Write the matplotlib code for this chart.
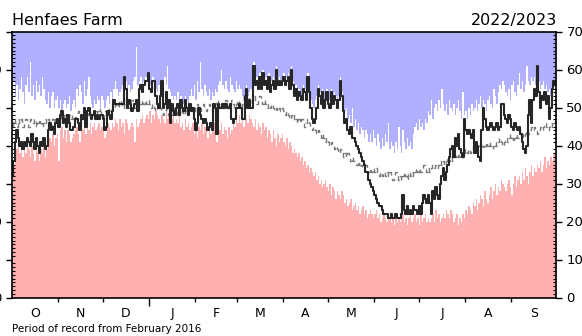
import numpy as np
import matplotlib
matplotlib.use("Agg")
import matplotlib.pyplot as plt
from matplotlib.ticker import MultipleLocator, FixedLocator, NullFormatter

# Season runs October to September
month_names = ["O", "N", "D", "J", "F", "M", "A", "M", "J", "J", "A", "S"]
month_days = [31, 30, 31, 31, 28, 31, 30, 31, 30, 31, 31, 30]

# Daily values for 2022/2023
obs = [
    32, 36, 41, 44, 42, 40, 41, 39, 41, 40,
    42, 41, 40, 43, 41, 39, 42, 40, 38, 41,
    40, 42, 39, 40, 44, 46, 44, 45, 43, 46,
    47, 45, 48, 49, 46, 47, 45, 48, 46, 44,
    44, 45, 47, 47, 46, 44, 48, 47, 50, 45,
    49, 50, 48, 47, 48, 49, 47, 48, 47, 48,
    48, 47, 44, 45, 49, 48, 47, 49, 52, 51,
    51, 51, 51, 51, 51, 58, 55, 50, 52, 51,
    49, 50, 51, 52, 49, 55, 56, 54, 56, 57,
    57, 59, 55, 54, 57, 57, 53, 51, 50, 53,
    57, 50, 51, 54, 50, 52, 46, 51, 49, 48,
    50, 51, 48, 52, 50, 49, 52, 50, 48, 51,
    49, 50, 47, 44, 46, 50, 48, 47, 46, 47,
    46, 44, 45, 46, 44, 51, 50, 43, 51, 50,
    50, 51, 50, 51, 50, 50, 51, 47, 46, 47,
    50, 50, 51, 50, 47, 47, 53, 55, 50, 52,
    50, 50, 61, 56, 57, 55, 58, 55, 59, 56,
    57, 55, 58, 54, 56, 57, 55, 60, 56, 57,
    56, 57, 58, 56, 57, 58, 55, 60, 56, 53,
    55, 52, 54, 53, 52, 55, 54, 52, 58, 54,
    50, 47, 46, 47, 50, 55, 53, 51, 54, 50,
    52, 54, 51, 50, 54, 51, 53, 52, 50, 52,
    57, 53, 49, 46, 47, 44, 43, 45, 42, 42,
    41, 40, 39, 38, 37, 36, 35, 33, 33, 31,
    30, 29, 28, 27, 26, 25, 24, 24, 23, 22,
    22, 22, 21, 21, 22, 21, 21, 22, 21, 21,
    21, 22, 27, 23, 22, 24, 22, 23, 22, 24,
    23, 23, 22, 24, 22, 25, 27, 26, 25, 27,
    25, 22, 28, 26, 29, 27, 26, 30, 32, 34,
    31, 33, 35, 37, 39, 40, 37, 42, 40, 43,
    39, 38, 37, 47, 44, 43, 44, 43, 42, 44,
    38, 41, 40, 37, 36, 44, 50, 47, 45, 44,
    45, 46, 45, 44, 45, 46, 44, 45, 51, 51,
    48, 47, 46, 48, 47, 45, 44, 46, 45, 44,
    45, 43, 41, 39, 38, 40, 48, 52, 46, 52,
    55, 53, 61, 54, 50, 53, 52, 54, 51, 53,
    47, 50, 55, 57, 56,
]

# Highest value on record for each day
rec_max = [
    55, 57, 53, 56, 52, 55, 58, 54, 51, 56,
    58, 54, 62, 53, 56, 52, 57, 54, 56, 53,
    58, 55, 52, 51, 54, 50, 53, 54, 50, 52,
    53, 50, 52, 49, 51, 52, 50, 51, 53, 49,
    51, 52, 50, 55, 53, 56, 54, 51, 57, 53,
    55, 58, 53, 51, 50, 52, 51, 53, 52, 50,
    53, 52, 50, 52, 53, 51, 54, 52, 55, 57,
    55, 53, 54, 55, 56, 58, 57, 55, 56, 54,
    55, 57, 58, 66, 56, 57, 58, 56, 57, 58,
    58, 59, 56, 57, 58, 57, 55, 54, 56, 55,
    57, 55, 58, 56, 61, 55, 54, 53, 52, 53,
    52, 54, 51, 53, 52, 51, 53, 52, 51, 53,
    55, 53, 56, 52, 57, 54, 62, 55, 53, 56,
    54, 53, 55, 52, 54, 53, 55, 54, 56, 57,
    60, 56, 55, 57, 55, 54, 58, 56, 55, 54,
    57, 55, 56, 55, 53, 52, 55, 56, 53, 54,
    55, 53, 62, 57, 58, 56, 59, 56, 60, 57,
    58, 56, 59, 55, 57, 58, 56, 61, 57, 58,
    57, 58, 59, 57, 58, 59, 56, 61, 57, 55,
    56, 54, 55, 54, 53, 56, 55, 54, 59, 55,
    52, 51, 50, 52, 53, 56, 54, 53, 55, 52,
    54, 55, 53, 52, 55, 53, 54, 53, 52, 53,
    58, 54, 51, 49, 50, 47, 48, 46, 50, 45,
    47, 44, 46, 43, 45, 44, 42, 44, 43, 41,
    43, 41, 44, 42, 40, 43, 41, 39, 42, 40,
    43, 41, 46, 39, 41, 40, 38, 41, 39, 45,
    40, 38, 44, 41, 39, 42, 40, 41, 39, 43,
    45, 46, 44, 47, 45, 46, 44, 47, 46, 49,
    48, 52, 47, 50, 51, 49, 52, 50, 55, 51,
    49, 51, 48, 52, 50, 49, 51, 48, 50, 52,
    49, 47, 54, 48, 49, 47, 50, 48, 51, 49,
    50, 52, 49, 51, 53, 50, 52, 51, 49, 52,
    53, 51, 50, 55, 53, 51, 54, 56, 55, 57,
    56, 54, 53, 55, 52, 56, 57, 54, 53, 56,
    59, 55, 57, 54, 56, 61, 57, 56, 58, 57,
    58, 56, 61, 57, 55, 56, 57, 55, 56, 54,
    55, 53, 56, 57, 56,
]

# Lowest value on record for each day
rec_min = [
    33, 35, 38, 39, 40, 38, 39, 37, 39, 38,
    40, 39, 37, 40, 38, 36, 39, 38, 36, 39,
    38, 40, 37, 39, 41, 42, 41, 43, 40, 42,
    43, 36, 44, 45, 42, 44, 41, 44, 43, 41,
    42, 43, 44, 45, 43, 41, 45, 44, 46, 43,
    45, 44, 46, 43, 45, 46, 44, 45, 46, 44,
    45, 44, 42, 43, 46, 45, 44, 46, 45, 47,
    46, 44, 47, 45, 46, 43, 47, 46, 44, 45,
    46, 45, 41, 47, 45, 46, 47, 48, 46, 47,
    48, 47, 49, 46, 48, 47, 49, 48, 47, 46,
    48, 47, 46, 49, 47, 48, 46, 47, 48, 46,
    47, 46, 48, 45, 46, 44, 47, 45, 46, 44,
    45, 46, 43, 44, 42, 45, 44, 46, 43, 45,
    44, 42, 45, 43, 44, 46, 43, 41, 45, 44,
    46, 43, 45, 44, 42, 45, 43, 44, 46, 45,
    47, 46, 48, 46, 47, 45, 48, 47, 46, 48,
    47, 46, 45, 47, 44, 46, 45, 43, 46, 44,
    45, 42, 44, 43, 41, 44, 42, 40, 43, 41,
    42, 43, 41, 40, 42, 39, 41, 40, 38, 39,
    38, 37, 38, 36, 37, 35, 36, 34, 35, 33,
    34, 33, 32, 33, 31, 32, 30, 31, 29, 30,
    31, 29, 28, 30, 27, 29, 28, 26, 28, 27,
    26, 28, 27, 25, 26, 24, 25, 26, 23, 24,
    25, 23, 24, 22, 23, 24, 22, 23, 21, 22,
    23, 22, 21, 22, 23, 21, 22, 20, 21, 22,
    21, 20, 21, 22, 20, 21, 19, 21, 20, 21,
    20, 21, 22, 20, 21, 19, 21, 22, 20, 21,
    22, 20, 21, 19, 22, 20, 21, 22, 20, 21,
    20, 21, 22, 20, 23, 21, 22, 20, 21, 22,
    21, 23, 22, 21, 23, 22, 20, 21, 22, 19,
    21, 20, 22, 21, 23, 22, 24, 23, 22, 25,
    24, 26, 23, 25, 27, 26, 24, 28, 26, 25,
    27, 29, 26, 28, 30, 27, 29, 28, 31, 30,
    29, 28, 30, 31, 29, 27, 30, 32, 29, 31,
    32, 30, 33, 31, 34, 32, 30, 33, 35, 32,
    34, 33, 35, 34, 36, 33, 35, 37, 34, 36,
    35, 37, 36, 38, 38,
]

# Long-term mean for each day
mean = [
    45, 47, 46, 45, 47, 46, 47, 45, 46, 47, 46, 45, 47, 46, 46,
    47, 45, 46, 47, 46, 45, 46, 47, 46, 47, 46, 45, 47, 46, 47,
    47, 46, 48, 47, 47, 48, 46, 47, 48, 47, 48, 47, 48, 47, 49,
    48, 47, 48, 49, 48, 48, 49, 47, 48, 49, 48, 49, 48, 49, 50,
    48, 47, 49, 48, 49, 50, 49, 50, 51, 50, 51, 50, 52, 51, 50,
    51, 52, 51, 50, 51, 52, 51, 50, 52, 51, 52, 51, 52, 51, 52,
    51, 52, 51, 50, 51, 50, 49, 50, 51, 50, 49, 48, 49, 50, 49,
    48, 49, 48, 49, 50, 49, 48, 49, 48, 49, 48, 49, 50, 49, 50,
    49, 50, 49, 50, 51, 50, 49, 50, 51, 50, 49, 50, 51, 50, 49,
    50, 51, 52, 51, 50, 51, 50, 51, 52, 51, 50, 51, 52, 51, 50,
    51, 52, 51, 50, 51, 52, 51, 52, 53, 52, 51, 52, 53, 52, 51,
    52, 53, 52, 51, 52, 51, 50, 51, 50, 51, 50, 49, 50, 49, 50,
    49, 50, 49, 48, 49, 48, 47, 48, 47, 48, 47, 46, 47, 46, 47,
    46, 45, 46, 47, 46, 45, 44, 45, 44, 43, 44, 43, 42, 43, 42,
    41, 42, 41, 40, 41, 40, 39, 40, 39, 38, 39, 38, 37, 38, 37,
    38, 37, 36, 37, 36, 36, 35, 36, 35, 34, 35, 34, 35, 34, 33,
    34, 33, 34, 33, 34, 33, 32, 33, 32, 33, 32, 33, 32, 33, 32,
    31, 32, 33, 32, 31, 32, 31, 32, 33, 32, 31, 33, 32, 33, 32,
    33, 34, 33, 34, 33, 34, 35, 34, 33, 34, 33, 34, 35, 34, 35,
    34, 35, 36, 35, 36, 35, 36, 37, 36, 37, 36, 37, 38, 37, 38,
    37, 38, 37, 38, 39, 38, 39, 38, 39, 40, 39, 40, 39, 40, 41,
    40, 39, 40, 41, 40, 41, 40, 39, 40, 41, 40, 41, 42, 41, 40,
    41, 42, 41, 42, 43, 42, 41, 42, 43, 42, 43, 44, 43, 42, 43,
    44, 43, 44, 45, 44, 45, 44, 43, 44, 45, 44, 45, 46, 45, 44,
    45, 46, 45, 46, 47,
]

days = np.arange(len(obs))
obs = np.array(obs)
# this season's values count towards the records too
rec_max = np.maximum(rec_max, obs)
rec_min = np.minimum(rec_min, obs)

blue = "#b0b0ff"
pink = "#ffb0b0"

fig = plt.figure(figsize=(5.82, 3.36), dpi=100)
ax = fig.add_axes([12 / 582, 1 - 297.5 / 336, 544 / 582, 266 / 336])
ax.set_facecolor(blue)

# white band up to the record high, pink below the record low
ax.bar(days, rec_max, width=1.0, color="white", linewidth=0)
ax.bar(days, rec_min, width=1.0, color=pink, linewidth=0)

ax.plot(days, mean, color="#7a7a7a", lw=1.0, ls=(0, (4, 3)), drawstyle="steps-mid")
ax.plot(days, obs, color="#262626", lw=1.5, drawstyle="steps-mid")

ax.set_xlim(-0.5, len(days) - 0.5)
ax.set_ylim(0, 70)

# month boundaries as ticks, month initials in the middle of each month
bounds = np.cumsum([0] + month_days) - 0.5
mids = (bounds[:-1] + bounds[1:]) / 2
ax.xaxis.set_major_locator(FixedLocator(bounds[1:-1]))
ax.xaxis.set_major_formatter(NullFormatter())
ax.xaxis.set_minor_locator(FixedLocator(mids))
ax.set_xticklabels(month_names, minor=True)
ax.tick_params(axis="x", which="major", direction="out", length=3, width=1)
ax.tick_params(axis="x", which="minor", length=0, pad=7, labelsize=9)
# longer tick at the turn of the year
ax.xaxis.get_major_ticks()[2].tick1line.set_markersize(6)

ax.yaxis.set_major_locator(MultipleLocator(10))
ax.yaxis.set_minor_locator(MultipleLocator(1))
ax.tick_params(axis="y", which="major", direction="out", length=4, width=1,
               left=True, right=True, labelleft=True, labelright=True, labelsize=9.5)
ax.tick_params(axis="y", which="minor", direction="in", length=2, width=0.8,
               left=True, right=True)

for s in ax.spines.values():
    s.set_linewidth(1.2)

fig.text(12 / 582, 1 - 25 / 336, "Henfaes Farm", fontsize=11.5, va="baseline")
fig.text(557 / 582, 1 - 25 / 336, "2022/2023", fontsize=11.5, va="baseline", ha="right")
fig.text(12 / 582, 1 - 332 / 336, "Period of record from February 2016", fontsize=7.5, va="baseline")

fig.savefig("out.png", dpi=100)
